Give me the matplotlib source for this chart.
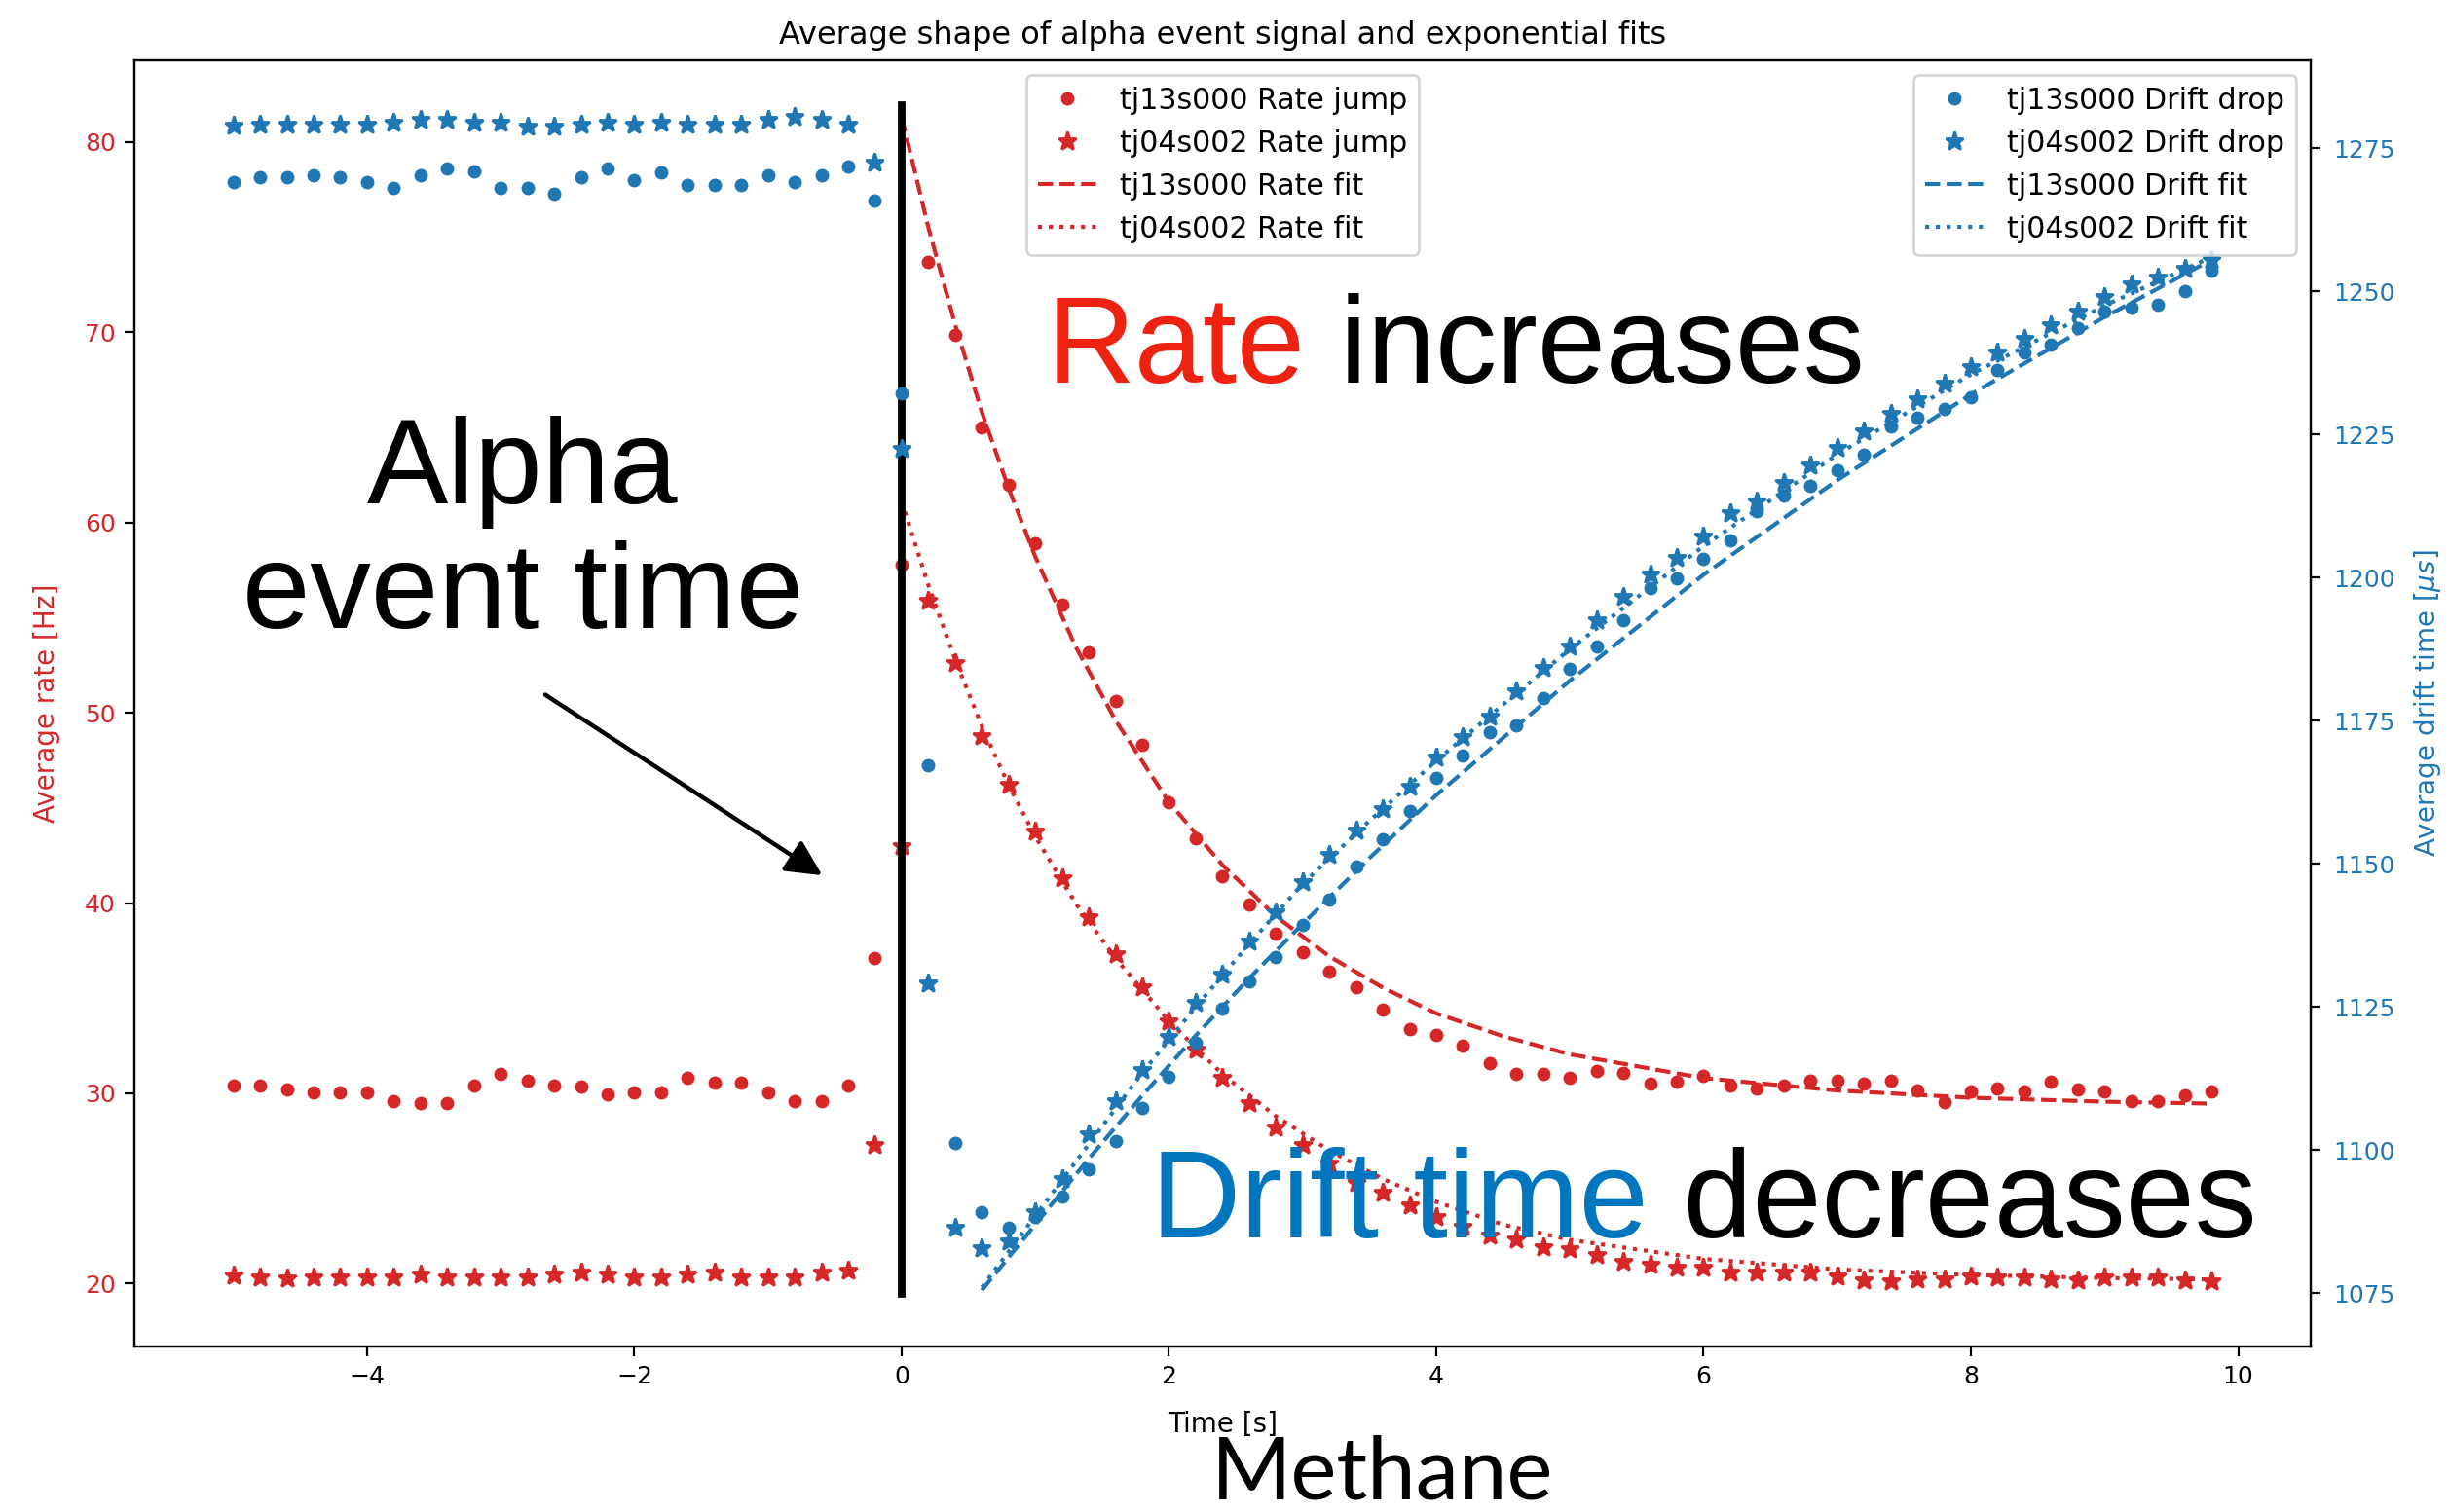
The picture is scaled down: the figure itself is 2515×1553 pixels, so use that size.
import matplotlib
matplotlib.use('Agg')
import matplotlib.pyplot as plt
from matplotlib.text import Annotation

# time of each averaged bin [s], alpha event at t = 0
time = [-5.0, -4.8, -4.6, -4.4, -4.2, -4.0, -3.8, -3.6, -3.4, -3.2, -3.0, -2.8, -2.6, -2.4, -2.2,
        -2.0, -1.8, -1.6, -1.4, -1.2, -1.0, -0.8, -0.6, -0.4, -0.2,
        0.0, 0.2, 0.4, 0.6, 0.8, 1.0, 1.2, 1.4, 1.6, 1.8, 2.0, 2.2, 2.4, 2.6, 2.8,
        3.0, 3.2, 3.4, 3.6, 3.8, 4.0, 4.2, 4.4, 4.6, 4.8, 5.0, 5.2, 5.4, 5.6, 5.8,
        6.0, 6.2, 6.4, 6.6, 6.8, 7.0, 7.2, 7.4, 7.6, 7.8, 8.0, 8.2, 8.4, 8.6, 8.8,
        9.0, 9.2, 9.4, 9.6, 9.8]

# average rate [Hz]
rate_tj13 = [30.43, 30.43, 30.2, 30.07, 30.07, 30.07, 29.57, 29.49, 29.49, 30.43, 31.02, 30.68, 30.43,
             30.34, 29.95, 30.07, 30.07, 30.8, 30.54, 30.54, 30.07, 29.57, 29.57, 30.43, 37.1,
             57.8, 73.7, 69.85, 65.0, 62.0, 58.9, 55.7, 53.2, 50.6, 48.3, 45.3, 43.4, 41.4, 39.9, 38.4,
             37.4, 36.4, 35.6, 34.4, 33.4, 33.05, 32.5, 31.6, 31.0, 31.0, 30.8, 31.2, 31.05, 30.5, 30.6,
             30.9, 30.4, 30.25, 30.4, 30.65, 30.65, 30.5, 30.65, 30.15, 29.55, 30.1, 30.25, 30.1, 30.6, 30.2,
             30.1, 29.6, 29.6, 29.9, 30.1]
rate_tj04 = [20.43, 20.34, 20.26, 20.34, 20.34, 20.34, 20.34, 20.48, 20.34, 20.34, 20.34, 20.34, 20.48,
             20.6, 20.48, 20.34, 20.34, 20.48, 20.6, 20.34, 20.34, 20.34, 20.6, 20.71, 27.3,
             43.0, 55.9, 52.6, 48.8, 46.2, 43.75, 41.3, 39.25, 37.3, 35.6, 33.8, 32.3, 30.8, 29.5, 28.2,
             27.3, 26.3, 25.3, 24.8, 24.1, 23.5, 23.0, 22.55, 22.3, 21.9, 21.8, 21.5, 21.15, 21.0, 20.85,
             20.85, 20.6, 20.6, 20.6, 20.6, 20.4, 20.2, 20.15, 20.25, 20.25, 20.4, 20.35, 20.35, 20.25, 20.2,
             20.35, 20.35, 20.35, 20.2, 20.15]

# average drift time [us]
drift_tj13 = [1269.1, 1269.9, 1269.9, 1270.3, 1269.9, 1269.1, 1268.0, 1270.3, 1271.4, 1271.0, 1268.0, 1268.0,
              1267.0, 1269.9, 1271.4, 1269.4, 1270.7, 1268.6, 1268.6, 1268.6, 1270.3, 1269.1, 1270.3, 1271.8, 1265.9,
              1232.2, 1167.2, 1101.3, 1089.1, 1086.5, 1088.3, 1091.9, 1096.7, 1101.5, 1107.4,
              1112.8, 1118.8, 1124.7, 1129.5, 1133.7, 1139.3, 1143.8, 1149.5, 1154.3, 1159.3,
              1165.0, 1169.0, 1173.0, 1174.2, 1179.0, 1184.0, 1188.0, 1192.5, 1198.1, 1199.9,
              1203.3, 1206.5, 1211.6, 1214.3, 1216.0, 1218.8, 1221.4, 1226.4, 1228.0, 1229.5,
              1231.5, 1236.3, 1239.3, 1240.7, 1243.5, 1246.5, 1247.1, 1247.6, 1250.0, 1253.6]
drift_tj04 = [1278.9, 1279.1, 1279.1, 1279.1, 1279.1, 1279.1, 1279.5, 1280.0, 1280.0, 1279.5, 1279.5, 1278.7,
              1278.7, 1279.1, 1279.5, 1279.1, 1279.5, 1279.1, 1279.1, 1279.1, 1280.0, 1280.4, 1280.0, 1279.1, 1272.4,
              1222.5, 1129.2, 1086.5, 1082.9, 1084.0, 1089.1, 1094.9, 1102.7, 1108.6, 1114.0,
              1119.7, 1125.7, 1130.7, 1136.4, 1141.5, 1146.8, 1151.6, 1155.8, 1159.6, 1163.5,
              1168.6, 1172.2, 1175.7, 1180.1, 1184.3, 1188.0, 1192.6, 1196.6, 1200.5, 1203.5,
              1207.1, 1211.3, 1213.3, 1216.6, 1219.6, 1222.6, 1225.6, 1228.6, 1231.2, 1233.9,
              1236.7, 1239.3, 1241.7, 1244.1, 1246.5, 1249.1, 1251.2, 1252.4, 1253.9, 1255.4]

# exponential fit curves
rate_fit_t = [0.0, 0.2, 0.4, 0.6, 0.8, 1.0, 1.3, 1.6, 2.0, 2.4, 2.8, 3.2, 3.6, 4.0, 4.5, 5.0, 6.0, 7.0, 8.0, 9.0, 9.8]
rate_fit_tj13 = [81.3, 75.5, 70.4, 65.8, 61.8, 58.2, 53.5, 49.6, 45.3, 42.0, 39.3, 37.2, 35.55, 34.2, 33.0,
                 32.05, 30.8, 30.15, 29.77, 29.56, 29.46]
rate_fit_tj04 = [61.1, 56.7, 52.8, 49.3, 46.2, 43.5, 40.0, 37.1, 33.8, 31.0, 28.8, 27.0, 25.5, 24.3, 23.1,
                 22.3, 21.3, 20.75, 20.45, 20.3, 20.22]
drift_fit_t = [0.6, 1.0, 1.4, 1.8, 2.2, 2.6, 3.0, 3.5, 4.0, 4.5, 5.0, 6.0, 7.0, 8.0, 9.0, 9.8]
drift_fit_tj13 = [1075.5, 1087, 1098.5, 1109.5, 1120, 1130, 1139.5, 1151, 1162, 1172, 1182, 1200.5, 1217,
                  1232, 1245.5, 1255.5]
drift_fit_tj04 = [1076, 1088.5, 1101, 1113.5, 1125, 1136, 1146.5, 1157.5, 1168, 1177.8, 1187.5, 1205.5,
                  1221.5, 1235.5, 1247.5, 1256]

x_ticks = [-4, -2, 0, 2, 4, 6, 8, 10]
rate_ticks = [20, 30, 40, 50, 60, 70, 80]
drift_ticks = [1075, 1100, 1125, 1150, 1175, 1200, 1225, 1250, 1275]
event_time = 0.0

RED, BLUE = 'tab:red', 'tab:blue'
BIG = ['Liberation Sans', 'DejaVu Sans']

fig = plt.figure(figsize=(12.575, 7.765), dpi=200)
ax = fig.add_axes([0.0549, 0.1095, 0.8885, 0.8508])
ax2 = ax.twinx()

ax.plot(time, rate_tj13, '.', color=RED, ms=8, label='tj13s000 Rate jump')
ax.plot(time, rate_tj04, '*', color=RED, ms=7, label='tj04s002 Rate jump')
ax.plot(rate_fit_t, rate_fit_tj13, '--', color=RED, label='tj13s000 Rate fit')
ax.plot(rate_fit_t, rate_fit_tj04, ':', color=RED, label='tj04s002 Rate fit')

ax2.plot(time, drift_tj13, '.', color=BLUE, ms=8, label='tj13s000 Drift drop')
ax2.plot(time, drift_tj04, '*', color=BLUE, ms=7, label='tj04s002 Drift drop')
ax2.plot(drift_fit_t, drift_fit_tj13, '--', color=BLUE, label='tj13s000 Drift fit')
ax2.plot(drift_fit_t, drift_fit_tj04, ':', color=BLUE, label='tj04s002 Drift fit')

ax.set_xlim(-5.74, 10.54)
ax.set_ylim(16.7, 84.3)
ax2.set_ylim(1065.7, 1290.4)
ax.set_xticks(x_ticks)
ax.set_yticks(rate_ticks)
ax2.set_yticks(drift_ticks)

ax.set_title('Average shape of alpha event signal and exponential fits', fontsize=11.5)
ax.set_xlabel('Time [s]', fontsize=10, labelpad=8)
ax.set_ylabel('Average rate [Hz]', color=RED, fontsize=10, labelpad=9)
ax2.set_ylabel(r'Average drift time [$\mu s$]', color=BLUE, fontsize=10, labelpad=6)
ax.tick_params(axis='x', labelsize=9)
ax.tick_params(axis='y', labelcolor=RED, labelsize=9)
ax2.tick_params(axis='y', labelcolor=BLUE, labelsize=9, pad=5)

ax.legend(loc='upper center', fontsize=10.8)
ax2.legend(loc='upper right', fontsize=10.8)

# slide annotations
ax.axvline(event_time, ymin=0.041, ymax=0.965, color='black', lw=2.8)
ax.annotate('', xy=(-0.56, 41.3), xytext=(-2.70, 51.1),
            arrowprops=dict(arrowstyle='-|>', color='black', lw=1.6, mutation_scale=28))

fig.text(0.2135, 0.6674, 'Alpha', ha='center', va='baseline', fontsize=45, family=BIG)
fig.text(0.2135, 0.5847, 'event time', ha='center', va='baseline', fontsize=45, family=BIG)

t1 = fig.text(0.4274, 0.747, 'Rate', color='#EE2211', fontsize=45.3, family=BIG, va='baseline')
fig.add_artist(Annotation(' increases', xy=(1, 0), xycoords=t1, va='bottom', ha='left',
                          fontsize=45.3, family=BIG, color='black'))
t2 = fig.text(0.470, 0.1816, 'Drift time', color='#0076BE', fontsize=46, family=BIG, va='baseline')
fig.add_artist(Annotation(' decreases', xy=(1, 0), xycoords=t2, va='bottom', ha='left',
                          fontsize=46, family=BIG, color='black'))

fig.text(0.5646, 0.0084, 'Methane', ha='center', va='baseline', fontsize=32, family=['Lato', 'DejaVu Sans'])

fig.savefig('out.png', dpi=200)
